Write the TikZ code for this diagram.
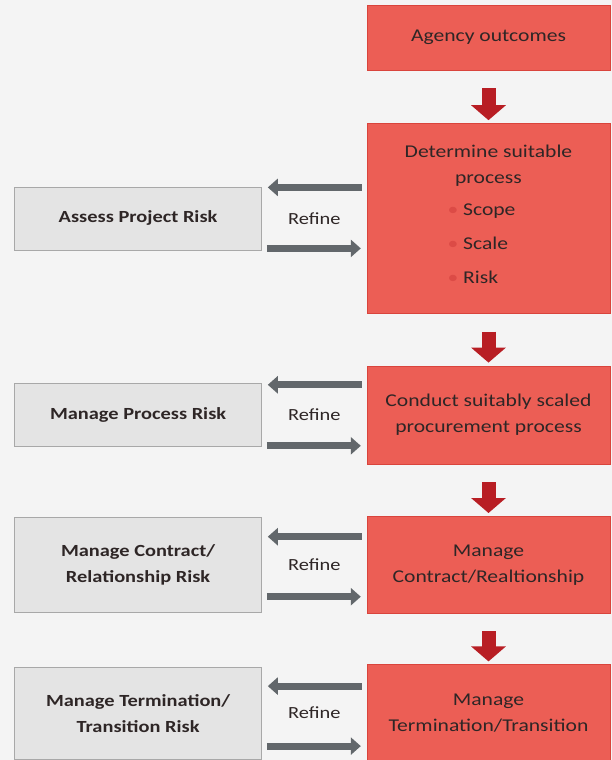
\documentclass[tikz,border=0pt]{standalone}
\usepackage{fontspec}
\setmainfont{Carlito}[FakeStretch=1.2]
\usepackage{tikz}
\usetikzlibrary{positioning, arrows.meta, calc}
\usepackage{xcolor}
\definecolor{fondo}{HTML}{F4F4F4}
\definecolor{rojocaja}{HTML}{EC5E55}
\definecolor{rojoborde}{HTML}{D9443C}
\definecolor{rojoflecha}{HTML}{B81E24}
\definecolor{griscaja}{HTML}{E4E4E4}
\definecolor{grisborde}{HTML}{A8A8A8}
\definecolor{grisflecha}{HTML}{62676B}
\definecolor{texto}{HTML}{2E2626}

\begin{document}
\begin{tikzpicture}[x=1pt, y=1pt,
		every node/.style={text=texto},
		rojo/.style={rectangle, draw=rojoborde, fill=rojocaja, minimum width=243pt, align=center, font=\fontsize{18}{26}\selectfont},
		gris/.style={rectangle, draw=grisborde, fill=griscaja, minimum width=247pt, align=center, font=\bfseries\fontsize{17}{26}\selectfont},
		flecha/.style={draw=rojoflecha, line width=14pt, -{Triangle[width=34pt, length=15pt]}, shorten <=18pt, shorten >=3pt},
		refina/.style={draw=grisflecha, line width=7pt, -{Triangle[width=17pt, length=10pt]}, shorten <=5pt, shorten >=6pt},
		etiq/.style={font=\fontsize{17}{20}\selectfont}
		]
		% fondo
		\fill[fondo] (0,0) rectangle (612,-760);
		\useasboundingbox (0,0) rectangle (612,-760);
		
		% Nodos principales
		\node[rojo, minimum height=65pt] (outc) at (488.5,-37.5) {Agency outcomes};
		\node[rojo, minimum height=190pt, below=53pt of outc] (det) {Determine suitable\\process\\[6pt]%
			\begin{tabular}[t]{@{}l@{}}{\color{rojoflecha!30!rojocaja}\textbullet}\ Scope\\[8pt]{\color{rojoflecha!30!rojocaja}\textbullet}\ Scale\\[8pt]{\color{rojoflecha!30!rojocaja}\textbullet}\ Risk\end{tabular}\hspace*{14pt}};
		\node[rojo, minimum height=98pt, below=52pt of det] (cond) {Conduct suitably scaled\\procurement process};
		\node[rojo, minimum height=97pt, below=52pt of cond] (mcon) {Manage\\Contract/Realtionship};
		\node[rojo, minimum height=97pt, below=51pt of mcon] (mterm) {Manage\\Termination/Transition};
		
		% nodos de riesgo
		\node[gris, minimum height=63pt, left=105pt of det] (ass) {Assess Project Risk};
		\node[gris, minimum height=63pt, left=105pt of cond] (mproc) {Manage Process Risk};
		\node[gris, minimum height=95pt, left=105pt of mcon] (mrel) {Manage Contract/\\Relationship Risk};
		\node[gris, minimum height=92pt, left=105pt of mterm] (mtrans) {Manage Termination/\\Transition Risk};
		
		% etiquetas
		\node[etiq] (ref1) at ($(ass.east)!0.5!(det.west)$) {Refine};
		\node[etiq] (ref2) at ($(mproc.east)!0.5!(cond.west)$) {Refine};
		\node[etiq] (ref3) at ($(mrel.east)!0.5!(mcon.west)$) {Refine};
		\node[etiq] (ref4) at ($(mtrans.east)!0.5!(mterm.west)$) {Refine};
		
		% flechas principales
		\draw[flecha] (outc) -- (det);
		\draw[flecha] (det) -- (cond);
		\draw[flecha] (cond) -- (mcon);
		\draw[flecha] (mcon) -- (mterm);
		
		% flechas de refinar
		\draw[refina] ([yshift=31pt]det.west) -- ([yshift=31pt]det.west -| ass.east);
		\draw[refina] ([yshift=-30pt]det.west -| ass.east) -- ([yshift=-30pt]det.west);
		
		\draw[refina] ([yshift=30pt]cond.west) -- ([yshift=30pt]cond.west -| mproc.east);
		\draw[refina] ([yshift=-31pt]cond.west -| mproc.east) -- ([yshift=-31pt]cond.west);
		
		\draw[refina] ([yshift=28pt]mcon.west) -- ([yshift=28pt]mcon.west -| mrel.east);
		\draw[refina] ([yshift=-32pt]mcon.west -| mrel.east) -- ([yshift=-32pt]mcon.west);
		
		\draw[refina] ([yshift=27pt]mterm.west) -- ([yshift=27pt]mterm.west -| mtrans.east);
		\draw[refina] ([yshift=-33pt]mterm.west -| mtrans.east) -- ([yshift=-33pt]mterm.west);
		
	\end{tikzpicture}
\end{document}
